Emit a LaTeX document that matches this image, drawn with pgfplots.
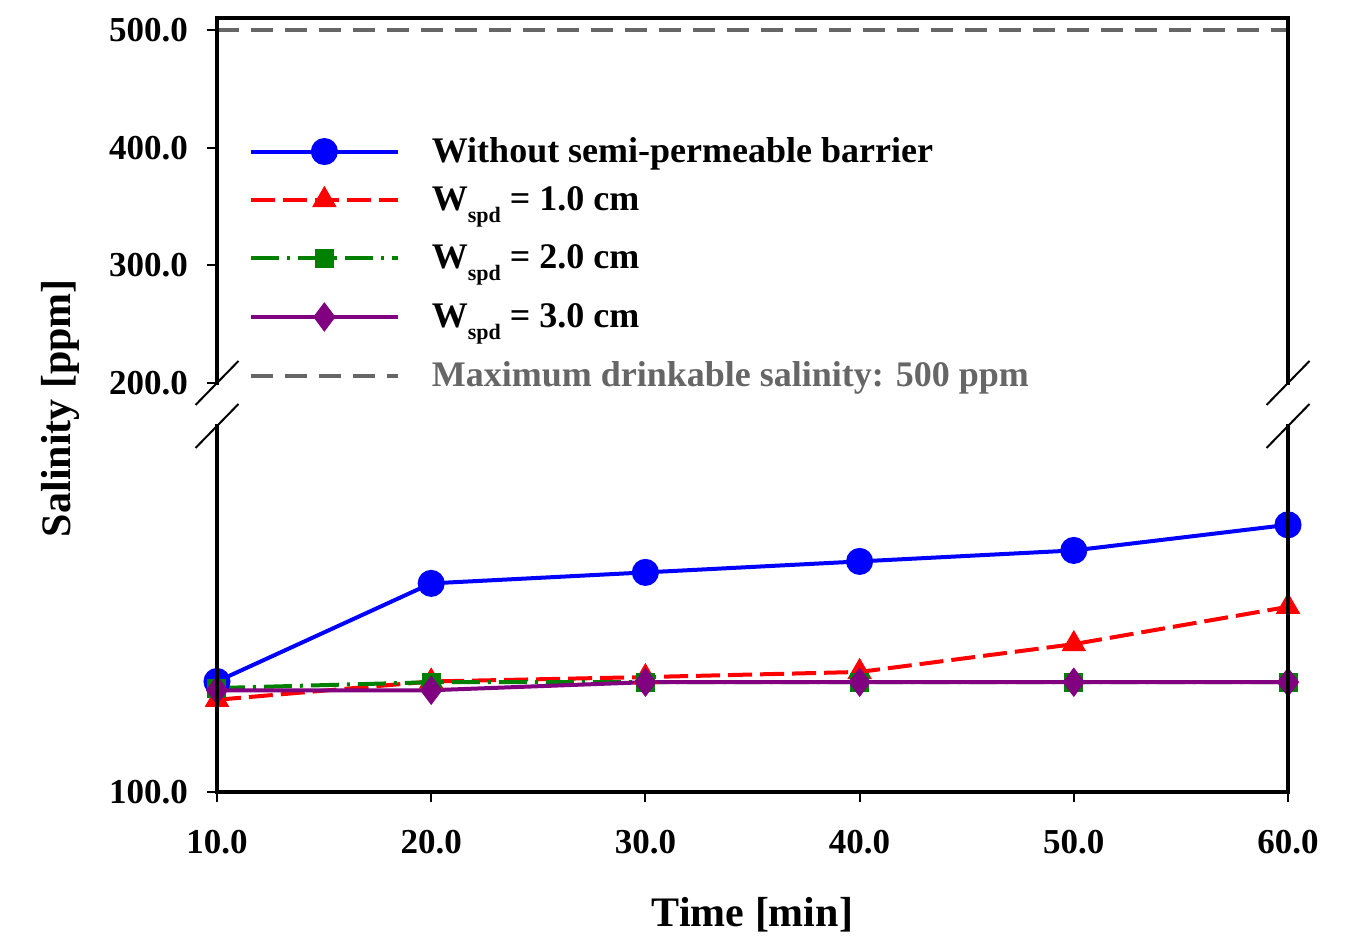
\documentclass[border=0pt]{standalone}
\usepackage{fontspec}
\setmainfont{Liberation Serif}
\usepackage{pgfplots}
\pgfplotsset{compat=1.18}

\definecolor{sgray}{RGB}{102,102,102}
\definecolor{sgreen}{RGB}{0,128,0}
\definecolor{spurple}{RGB}{128,0,128}

\newcommand{\spd}{\raisebox{-6pt}{\fontsize{11}{11}\selectfont spd}}

\pgfplotsset{
  brk/.style={
    scale only axis, width=535.5pt,
    xmin=10, xmax=60, clip=false,
    axis line style={draw=none},
    tick align=outside, major tick length=5pt,
    tick style={black, line width=1pt},
    xtick pos=bottom, ytick pos=left,
    ticklabel style={font=\fontsize{17.5}{20}\selectfont\bfseries},
    /pgf/number format/fixed,
    /pgf/number format/fixed zerofill,
    /pgf/number format/precision=1,
    /pgf/number format/assume math mode=true,
    yticklabel style={xshift=-6pt},
    xticklabel style={yshift=-10.5pt},
  },
  blueS/.style={blue, line width=2pt, mark=*, mark size=5.75pt, mark options={solid}},
  redS/.style={red, line width=2pt, dash pattern=on 12pt off 4pt, mark=triangle*, mark size=6.6pt, mark options={solid, line width=0.5pt}},
  greenS/.style={sgreen, line width=2pt, dash pattern=on 14pt off 4pt on 1.5pt off 4pt, mark=square*, mark size=4.5pt, mark options={solid, line width=0.5pt}},
  purpleS/.style={spurple, line width=2pt, mark=diamond*, mark size=7pt, mark options={solid, line width=0.5pt}},
  limitS/.style={sgray, line width=2pt, dash pattern=on 11pt off 6pt},
  % legend sample with extra room below for the subscripted entries
  deep/.style={legend image code/.code={%
    \draw[mark repeat=2, mark phase=2, ##1] plot coordinates {(0pt,0pt) (36.75pt,0pt) (73.5pt,0pt)};
    \path (0pt,-13pt);}},
}

\begin{document}
\begin{tikzpicture}
\useasboundingbox (-108.5pt,-77.5pt) rectangle (574pt,396pt);

% lower segment: 100 -- 150 ppm
\begin{axis}[brk, at={(0pt,0pt)}, anchor=south west, height=183pt,
  ymin=100, ymax=150, ytick={100}, xtick={10,20,30,40,50,60},
  xlabel={Time [min]}, ylabel={Salinity [ppm]},
  xlabel style={at={(axis description cs:0.5,-0.336)}, anchor=center, font=\fontsize{21}{25}\selectfont\bfseries},
  ylabel style={at={(axis description cs:-0.1466,1.049)}, anchor=center, font=\fontsize{21}{25}\selectfont\bfseries},
]
\addplot[blueS] coordinates {(10,115.1) (20,128.5) (30,130.0) (40,131.5) (50,133.0) (60,136.5)};
\addplot[redS] coordinates {(10,112.6) (20,115.1) (30,115.7) (40,116.4) (50,120.2) (60,125.3)};
\addplot[greenS] coordinates {(10,114.2) (20,115.0) (30,115.0) (40,115.0) (50,115.0) (60,115.0)};
\addplot[purpleS] coordinates {(10,113.9) (20,113.9) (30,115.0) (40,115.0) (50,115.0) (60,115.0)};
\end{axis}

% upper segment: 200 -- 510 ppm
\begin{axis}[brk, at={(0pt,204.5pt)}, anchor=south west, height=182.5pt,
  ymin=200, ymax=510.2, ytick={200,300,400,500}, xtick=\empty,
  legend cell align=left,
  legend image code/.code={\draw[mark repeat=2, mark phase=2, #1] plot coordinates {(0pt,0pt) (36.75pt,0pt) (73.5pt,0pt)};},
  legend style={at={(axis description cs:0.0294,0.6845)}, anchor=north west,
    draw=none, fill=none, inner sep=0pt, row sep=6.5pt,
    nodes={inner xsep=0pt, inner ysep=2pt},
    /tikz/every odd column/.append style={column sep=16pt},
    font=\fontsize{18}{21}\selectfont\bfseries},
]
\addlegendimage{blueS}
\addlegendentry{Without semi-permeable barrier}
\addlegendimage{redS, deep}
\addlegendentry{W\spd{} = 1.0 cm}
\addlegendimage{greenS, deep}
\addlegendentry{W\spd{} = 2.0 cm}
\addlegendimage{purpleS, deep}
\addlegendentry{W\spd{} = 3.0 cm}
\addplot[limitS] coordinates {(10,500) (60,500)};
\addlegendentry{\textcolor{sgray}{Maximum drinkable salinity: 500 ppm}}
\end{axis}

% frame with the axis break
\draw[line width=2pt, line cap=rect] (0pt,204.5pt) -- (0pt,387pt) -- (535.5pt,387pt) -- (535.5pt,204.5pt);
\draw[line width=2pt, line cap=rect] (0pt,183pt) -- (0pt,0pt) -- (535.5pt,0pt) -- (535.5pt,183pt);
\foreach \xx in {0pt,535.5pt}{
  \draw[line width=1pt] ([xshift=-10.75pt,yshift=-11pt]\xx,204.5pt) -- ([xshift=10.75pt,yshift=11pt]\xx,204.5pt);
  \draw[line width=1pt] ([xshift=-10.75pt,yshift=-11pt]\xx,183pt) -- ([xshift=10.75pt,yshift=11pt]\xx,183pt);
}
\end{tikzpicture}
\end{document}
